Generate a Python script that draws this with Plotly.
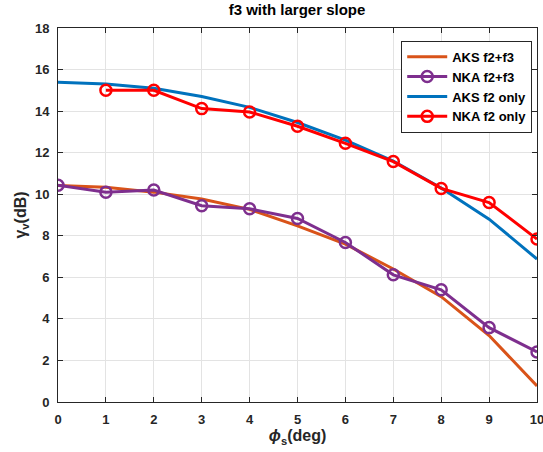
import plotly.graph_objs as go

phi = [0, 1, 2, 3, 4, 5, 6, 7, 8, 9, 10]
phi_nka_f2 = [1, 2, 3, 4, 5, 6, 7, 8, 9, 10]

aks_f2f3 = [10.42, 10.33, 10.1, 9.77, 9.27, 8.48, 7.6, 6.4, 5.07, 3.2, 0.77]
nka_f2f3 = [10.43, 10.1, 10.2, 9.45, 9.3, 8.83, 7.68, 6.12, 5.4, 3.58, 2.41]
aks_f2 = [15.39, 15.3, 15.1, 14.7, 14.18, 13.45, 12.6, 11.6, 10.3, 8.8, 6.88]
nka_f2 = [15.0, 15.0, 14.12, 13.96, 13.27, 12.45, 11.57, 10.28, 9.6, 7.84]

yticks = [0, 2, 4, 6, 8, 10, 12, 14, 16, 18]

fnt = 'Liberation Sans'

fig = go.Figure()
fig.add_trace(go.Scatter(x=phi, y=aks_f2f3, mode='lines', name='<b>AKS f2+f3</b>',
                         line=dict(color='#D95319', width=3)))
fig.add_trace(go.Scatter(x=phi, y=nka_f2f3, mode='lines+markers', name='<b>NKA f2+f3</b>',
                         line=dict(color='#7E2F8E', width=3),
                         marker=dict(symbol='circle-open', size=11, line=dict(width=2.5, color='#7E2F8E'))))
fig.add_trace(go.Scatter(x=phi, y=aks_f2, mode='lines', name='<b>AKS f2 only</b>',
                         line=dict(color='#0072BD', width=3)))
fig.add_trace(go.Scatter(x=phi_nka_f2, y=nka_f2, mode='lines+markers', name='<b>NKA f2 only</b>',
                         line=dict(color='#FF0000', width=3),
                         marker=dict(symbol='circle-open', size=11, line=dict(width=2.5, color='#FF0000'))))

axis_common = dict(showline=True, linecolor='#262626', linewidth=1, mirror='ticks',
                   ticks='inside', ticklen=5, tickcolor='#262626',
                   showgrid=True, gridcolor='#e3e3e3', gridwidth=1, zeroline=False,
                   ticklabeloverflow='allow',
                   tickfont=dict(family=fnt, size=13, color='#262626'))

fig.update_xaxes(range=[0, 10], tickvals=phi, ticktext=['<b>%d</b>' % v for v in phi],
                 title=dict(text='<b><i>ϕ</i><sub>s</sub>(deg)</b>', font=dict(family=fnt, size=16, color='#262626'),
                            standoff=4),
                 ticklabelstandoff=5,
                 **axis_common)
fig.update_yaxes(range=[0, 18], tickvals=yticks, ticktext=['<b>%d</b>' % v for v in yticks],
                 title=dict(text='<b>γ<sub>v</sub>(dB)</b>', font=dict(family=fnt, size=16, color='#262626'),
                            standoff=4),
                 ticklabelstandoff=5,
                 **axis_common)

fig.update_layout(
    width=543, height=452,
    margin=dict(l=58, r=6, t=28, b=50, autoexpand=False),
    paper_bgcolor='white', plot_bgcolor='white',
    title=dict(text='<b>f3 with larger slope</b>', x=0.547, xanchor='center', y=0.99, yanchor='top',
               font=dict(family=fnt, size=15, color='black')),
    legend=dict(x=0.99, y=0.966, xanchor='right', yanchor='top',
                bgcolor='white', bordercolor='#262626', borderwidth=1,
                font=dict(family=fnt, size=13, color='black'),
                tracegroupgap=0, itemwidth=40),
    showlegend=True,
)

fig.write_html("out.html", config={'displayModeBar': False},
               post_script="document.body.style.margin='0px';")
